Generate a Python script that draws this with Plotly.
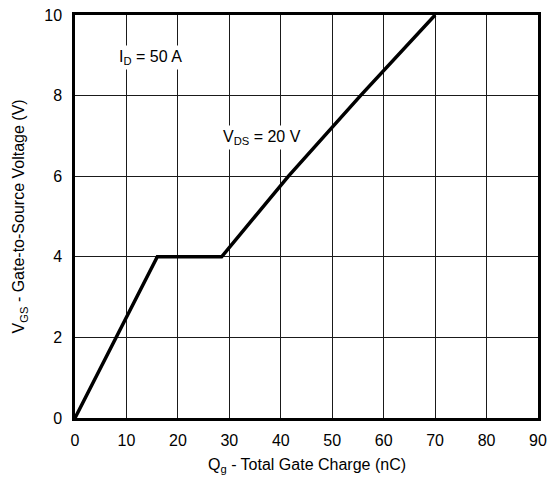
import plotly.graph_objects as go

# Gate charge curve
qg_nc = [0, 16, 28.5, 41.5, 55.5, 70]
vgs_v = [0, 4, 4, 6, 8, 10]

x_ticks = [0, 10, 20, 30, 40, 50, 60, 70, 80, 90]
y_ticks = [0, 2, 4, 6, 8, 10]

font_family = "Liberation Sans, Arial, Helvetica, sans-serif"
fs = 16

fig = go.Figure()
fig.add_trace(go.Scatter(
    x=qg_nc, y=vgs_v, mode="lines",
    line=dict(color="black", width=3.5),
    showlegend=False, hoverinfo="skip",
))

fig.add_annotation(x=14.6, y=8.95, text="I<sub>D</sub> = 50 A", showarrow=False,
                   font=dict(size=fs, color="black", family=font_family),
                   bgcolor="white", borderpad=2)
fig.add_annotation(x=36.4, y=6.95, text="V<sub>DS</sub> = 20 V", showarrow=False,
                   font=dict(size=fs, color="black", family=font_family),
                   bgcolor="white", borderpad=2)

# axis titles as paper annotations for exact placement
fig.add_annotation(xref="paper", yref="paper", x=0.5, y=-0.119, yanchor="middle",
                   text="Q<sub>g</sub> - Total Gate Charge (nC)", showarrow=False,
                   font=dict(size=fs, color="black", family=font_family))
fig.add_annotation(xref="paper", yref="paper", x=-0.119, y=0.5, xanchor="center",
                   text="V<sub>GS</sub> - Gate-to-Source Voltage (V)", showarrow=False,
                   textangle=-90,
                   font=dict(size=fs, color="black", family=font_family))

axis_common = dict(
    showgrid=True, gridcolor="#1a1a1a", gridwidth=1,
    showline=True, linecolor="black", linewidth=2.5, mirror=True,
    zeroline=False, ticks="", automargin=False, ticklabeloverflow="allow",
    tickfont=dict(size=fs, color="black", family=font_family),
)

fig.update_xaxes(range=[0, 90], tickvals=x_ticks, ticklabelstandoff=6, **axis_common)
fig.update_yaxes(range=[0, 10], tickvals=y_ticks, ticklabelstandoff=7, **axis_common)

# page body has an 8px margin, so the figure is offset by 8px
fig.update_layout(
    width=539, height=468,
    margin=dict(l=67, r=9, t=7, b=58, autoexpand=False),
    plot_bgcolor="white", paper_bgcolor="white",
    font=dict(family=font_family, color="black"),
)

fig.write_html("out.html")
